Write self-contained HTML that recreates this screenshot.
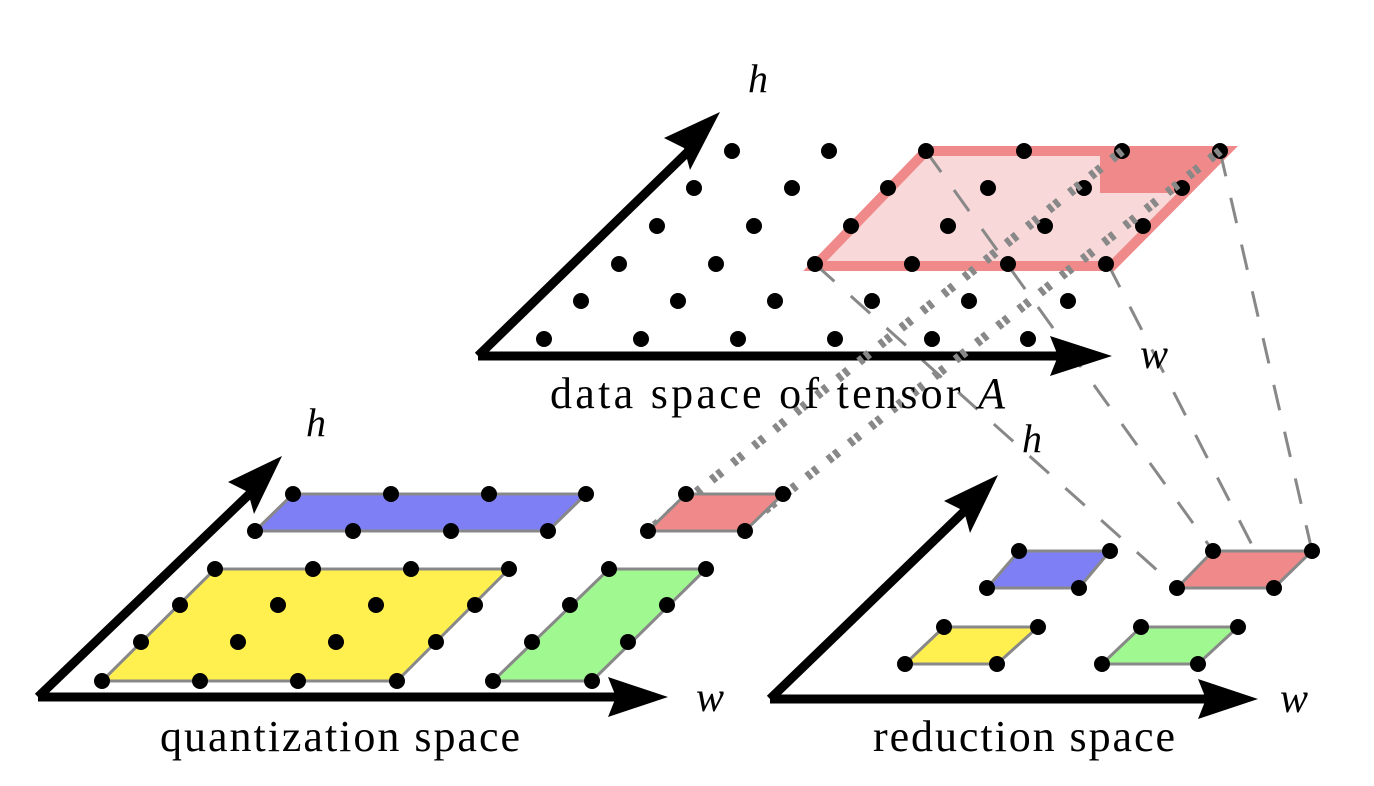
<!DOCTYPE html>
<html><head><meta charset="utf-8"><style>body{margin:0;background:#fff}svg{display:block}</style></head><body>
<svg width="1374" height="786" viewBox="0 0 1374 786" xmlns="http://www.w3.org/2000/svg" font-family="Liberation Serif, serif">
<polygon points="815,266 1112,266 1226,151 926,151" fill="#f8d8d8" stroke="#f08a8a" stroke-width="10" stroke-linejoin="miter"/>
<polygon points="1100,153 1222,153 1186,193 1100,193" fill="#f08a8a"/>
<g stroke="#888" stroke-width="3" stroke-dasharray="26,22" fill="none">
<line x1="815" y1="264" x2="1177" y2="588"/>
<line x1="926" y1="151" x2="1213" y2="551"/>
<line x1="1108" y1="264" x2="1274" y2="588"/>
<line x1="1220" y1="151" x2="1312" y2="551"/>
</g>
<g stroke="#000" stroke-width="9" fill="none" stroke-linecap="butt">
<line x1="478" y1="356" x2="1075" y2="356"/>
<line x1="478" y1="356" x2="700" y2="140"/>
</g>
<polygon points="1112,356 1050,336 1058,356 1050,376"/>
<polygon points="720,112 664,138 684,148 690,170"/>
<g fill="#000">
<circle cx="544" cy="339" r="8"/><circle cx="641" cy="339" r="8"/><circle cx="738" cy="339" r="8"/><circle cx="835" cy="339" r="8"/><circle cx="932" cy="339" r="8"/><circle cx="1028" cy="339" r="8"/>
<circle cx="581" cy="301" r="8"/><circle cx="678" cy="301" r="8"/><circle cx="775" cy="301" r="8"/><circle cx="872" cy="301" r="8"/><circle cx="969" cy="301" r="8"/><circle cx="1068" cy="301" r="8"/>
<circle cx="619" cy="264" r="8"/><circle cx="716" cy="264" r="8"/><circle cx="815" cy="264" r="8"/><circle cx="912" cy="264" r="8"/><circle cx="1008" cy="264" r="8"/><circle cx="1106" cy="264" r="8"/>
<circle cx="657" cy="226" r="8"/><circle cx="754" cy="226" r="8"/><circle cx="851" cy="226" r="8"/><circle cx="948" cy="226" r="8"/><circle cx="1045" cy="226" r="8"/><circle cx="1143" cy="226" r="8"/>
<circle cx="694" cy="188" r="8"/><circle cx="792" cy="188" r="8"/><circle cx="888" cy="188" r="8"/><circle cx="988" cy="188" r="8"/><circle cx="1084" cy="188" r="8"/><circle cx="1182" cy="188" r="8"/>
<circle cx="732" cy="151" r="8"/><circle cx="829" cy="151" r="8"/><circle cx="926" cy="151" r="8"/><circle cx="1024" cy="151" r="8"/><circle cx="1122" cy="151" r="8"/><circle cx="1220" cy="151" r="8"/>
</g>
<g stroke="#888" stroke-width="9" stroke-dasharray="5,3,5,14" fill="none">
<line x1="1122" y1="151" x2="648" y2="531"/>
<line x1="1220" y1="151" x2="760" y2="514"/>
</g>
<text x="748" y="92" font-size="40" font-style="italic">h</text>
<text x="1140" y="368" font-size="42" font-style="italic">w</text>
<text x="550" y="408" font-size="44" textLength="455" lengthAdjust="spacing">data space of tensor <tspan font-style="italic">A</tspan></text>

<g stroke="#888" stroke-width="3">
<polygon points="293,494 586,494 548,531 255,531" fill="#7f7ff5"/>
<polygon points="686,494 783,494 745,531 648,531" fill="#f08a8a"/>
<polygon points="215,569 509,569 397,681 102,681" fill="#fff04f"/>
<polygon points="609,569 706,569 592,681 493,681" fill="#a0f890"/>
</g>
<g stroke="#000" stroke-width="9" fill="none">
<line x1="38" y1="697" x2="630" y2="697"/>
<line x1="38" y1="697" x2="262" y2="482"/>
</g>
<polygon points="668,697 608,677 616,697 608,717"/>
<polygon points="282,456 228,482 248,492 254,514"/>
<g fill="#000">
<circle cx="293" cy="494" r="8"/><circle cx="391" cy="494" r="8"/><circle cx="489" cy="494" r="8"/><circle cx="586" cy="494" r="8"/>
<circle cx="255" cy="531" r="8"/><circle cx="353" cy="531" r="8"/><circle cx="451" cy="531" r="8"/><circle cx="548" cy="531" r="8"/>
<circle cx="686" cy="494" r="8"/><circle cx="783" cy="494" r="8"/><circle cx="648" cy="531" r="8"/><circle cx="745" cy="531" r="8"/>
<circle cx="215" cy="569" r="8"/><circle cx="313" cy="569" r="8"/><circle cx="411" cy="569" r="8"/><circle cx="509" cy="569" r="8"/>
<circle cx="180" cy="605" r="8"/><circle cx="278" cy="605" r="8"/><circle cx="376" cy="605" r="8"/><circle cx="475" cy="605" r="8"/>
<circle cx="141" cy="642" r="8"/><circle cx="238" cy="642" r="8"/><circle cx="336" cy="642" r="8"/><circle cx="436" cy="642" r="8"/>
<circle cx="102" cy="681" r="8"/><circle cx="200" cy="681" r="8"/><circle cx="298" cy="681" r="8"/><circle cx="397" cy="681" r="8"/>
<circle cx="609" cy="569" r="8"/><circle cx="706" cy="569" r="8"/><circle cx="570" cy="605" r="8"/><circle cx="667" cy="605" r="8"/>
<circle cx="532" cy="642" r="8"/><circle cx="628" cy="642" r="8"/><circle cx="493" cy="681" r="8"/><circle cx="592" cy="681" r="8"/>
</g>
<text x="306" y="436" font-size="40" font-style="italic">h</text>
<text x="696" y="711" font-size="42" font-style="italic">w</text>
<text x="160" y="751" font-size="44" textLength="360" lengthAdjust="spacing">quantization space</text>

<g stroke="#888" stroke-width="3">
<polygon points="1019,551 1110,551 1079,588 987,588" fill="#7f7ff5"/>
<polygon points="1213,551 1312,551 1274,588 1177,588" fill="#f08a8a"/>
<polygon points="944,627 1038,627 997,664 905,664" fill="#fff04f"/>
<polygon points="1141,627 1238,627 1198,664 1102,664" fill="#a0f890"/>
</g>
<g stroke="#000" stroke-width="9" fill="none">
<line x1="770" y1="699" x2="1220" y2="699"/>
<line x1="770" y1="699" x2="978" y2="498"/>
</g>
<polygon points="1258,699 1198,679 1206,699 1198,719"/>
<polygon points="998,475 944,501 964,511 970,533"/>
<g fill="#000">
<circle cx="1019" cy="551" r="8"/><circle cx="1110" cy="551" r="8"/><circle cx="987" cy="588" r="8"/><circle cx="1079" cy="588" r="8"/>
<circle cx="1213" cy="551" r="8"/><circle cx="1312" cy="551" r="8"/><circle cx="1177" cy="588" r="8"/><circle cx="1274" cy="588" r="8"/>
<circle cx="944" cy="627" r="8"/><circle cx="1038" cy="627" r="8"/><circle cx="905" cy="664" r="8"/><circle cx="997" cy="664" r="8"/>
<circle cx="1141" cy="627" r="8"/><circle cx="1238" cy="627" r="8"/><circle cx="1102" cy="664" r="8"/><circle cx="1198" cy="664" r="8"/>
</g>
<text x="1022" y="452" font-size="40" font-style="italic">h</text>
<text x="1280" y="712" font-size="42" font-style="italic">w</text>
<text x="873" y="751" font-size="44" textLength="302" lengthAdjust="spacing">reduction space</text>
</svg>
</body></html>
